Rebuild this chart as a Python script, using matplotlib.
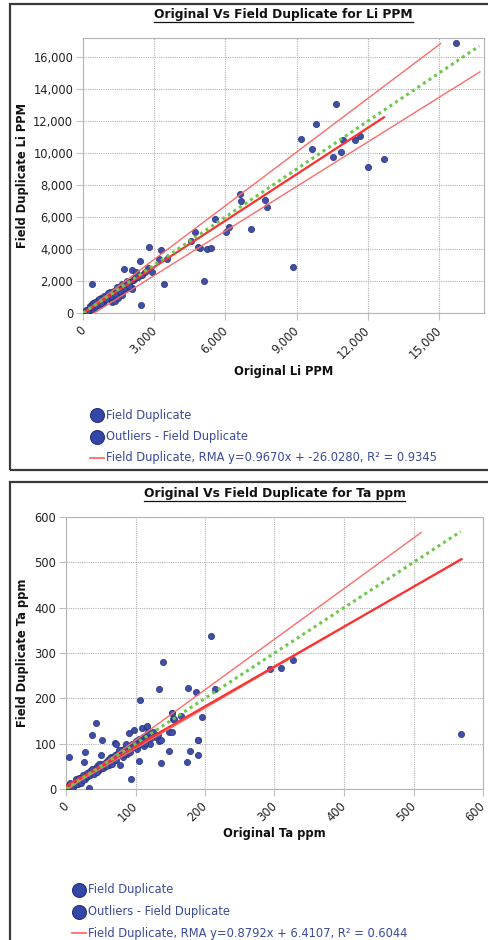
import matplotlib
matplotlib.use("Agg")
import matplotlib.pyplot as plt
from matplotlib.lines import Line2D
from matplotlib.patches import Rectangle
from matplotlib.ticker import FuncFormatter
from matplotlib.transforms import ScaledTranslation
import numpy as np

W, H = 489, 940

# ---- Li data (Original, Field Duplicate) ----
li_x = [50, 100, 150, 155, 200, 225, 250, 295, 300, 350, 365, 392, 400, 435, 450, 500, 506,
        600, 646, 650, 700, 716, 745, 800, 850, 857, 900, 927, 1000, 1067, 1100, 1138, 1150,
        1208, 1250, 1278, 1300, 1348, 1400, 1418, 1489, 1489, 1500, 1559, 1600, 1629, 1700,
        1700, 1714, 1770, 1800, 1840, 1900, 1910, 1980, 2050, 2050, 2050, 2100, 2120, 2190,
        2200, 2220, 2300, 2415, 2457, 2500, 2600, 2725, 2780, 2920, 3202, 3286, 3425, 3552,
        4550, 4719, 4859, 4930, 5085, 5210, 5405, 5548, 6010, 6137, 6600, 6643, 7064, 7668,
        7752, 8860, 9185, 9648, 9830, 10520, 10645, 10885, 10940, 11473, 11670, 11993,
        12680, 15740,
        120, 180, 280, 420, 520, 560, 680, 760, 880, 960, 1050, 1180, 1350, 1450, 1550,
        1650, 1750, 1850, 1950, 2250]
li_y = [30, 80, 60, 83, 150, 187, 250, 437, 200, 400, 562, 1833, 300, 229, 500, 420, 396,
        650, 812, 560, 760, 500, 917, 700, 900, 604, 820, 812, 1000, 1125, 950, 1333, 1200,
        708, 1150, 1020, 1350, 771, 1300, 1437, 1229, 917, 1450, 1646, 1550, 1125, 1650,
        1437, 2730, 1750, 1750, 1854, 1800, 1542, 1958, 2670, 1542, 1500, 2050, 2062, 2166,
        2200, 2540, 2250, 3230, 520, 2400, 2550, 2830, 4104, 2580, 3400, 3960, 1790, 3375,
        4500, 5062, 4104, 4080, 1980, 4020, 4080, 5875, 5040, 5400, 7460, 6980, 5250, 7040,
        6625, 2850, 10875, 10250, 11830, 9770, 13100, 10040, 10810, 10790, 11080, 9145,
        9645, 16894,
        200, 100, 350, 600, 700, 480, 900, 600, 1050, 850, 1250, 1050, 1200, 1600, 1350,
        1800, 1550, 2000, 1700, 2400]
li_rma = (0.9670, -26.0280, 12683)      # slope, intercept, x end
li_upper = (1.118, 0.0, 15070)
li_lower = (0.928, -440.0, 16727)
li_one_to_one_end = 16700

# ---- Ta data ----
ta_x = [1, 2, 3, 4, 5, 6, 7, 8, 10, 12, 14, 15, 17, 20, 22, 25, 26, 27, 28, 30, 32, 33,
        35, 37, 40, 42, 43, 45, 48, 50, 50, 52, 55, 58, 60, 62, 62, 65, 68, 70, 71, 72, 75,
        78, 80, 82, 85, 88, 90, 90, 93, 95, 98, 100, 102, 105, 105, 107, 110, 111, 112,
        115, 116, 117, 120, 121, 125, 128, 130, 132, 134, 134, 136, 136, 140, 148, 148,
        152, 153, 153, 154, 156, 166, 174, 176, 179, 187, 190, 190, 190, 195, 209, 215,
        293, 309, 326, 568, 4, 6, 15, 8, 11,
        10, 15, 18, 22, 25, 30, 35, 38, 40, 45, 47, 53, 57, 63, 66, 72, 76, 83, 87, 92,
        97, 103, 108, 113, 118, 122]
ta_y = [2, 5, 1, 8, 3, 6, 10, 4, 12, 8, 15, 20, 12, 25, 18, 30, 60, 82, 22, 35, 28, 2, 40,
        119, 45, 38, 146, 50, 42, 55, 75, 109, 48, 60, 65, 52, 58, 70, 62, 75, 101, 99, 80,
        53, 85, 70, 90, 78, 123, 95, 21, 100, 131, 105, 88, 110, 62, 196, 134, 115, 95,
        120, 137, 139, 110, 100, 125, 118, 115, 120, 106, 220, 107, 57, 280, 84, 126, 167,
        126, 167, 154, 154, 162, 60, 222, 84, 213, 108, 107, 76, 158, 337, 220, 265, 267,
        284, 122, 71, 14, 21, 1, 9,
        5, 12, 25, 14, 20, 28, 30, 45, 32, 38, 55, 46, 50, 68, 55, 64, 85, 78, 100, 82,
        92, 98, 105, 102, 125, 112]
ta_rma = (0.8792, 6.4107, 569)
ta_upper = (1.115, -4.0, 511)
ta_lower = (0.893, 0.0, 569)
ta_one_to_one_end = 568

DOT = "#3f4ea6"
DOT_EDGE = "#26327a"
RED = "#ff3030"
LIGHT_RED = "#ff6a6a"
GREEN = "#6cc84a"
LEG_TXT = "#3a4a9c"

fig = plt.figure(figsize=(W / 100, H / 100), dpi=100)


def fx(px):
    return px / W


def fy(py):
    return 1 - py / H


def draw_panel(box_top, box_bottom, ax_box, xs, ys, xmax, ymax, xstep, ystep,
               rma, upper, lower, one_end, title, xlabel, ylabel, title_y, xlabel_y,
               leg_x, leg_y0, rma_text):
    # outer frame
    fig.add_artist(Rectangle((fx(10), fy(box_bottom)), fx(500) - fx(10), fy(box_top) - fy(box_bottom),
                             transform=fig.transFigure, fill=False, edgecolor="#3a3a3a", lw=1.6))
    l, t, r, b = ax_box
    ax = fig.add_axes([fx(l), fy(b), fx(r) - fx(l), fy(t) - fy(b)])
    ax.scatter(xs, ys, s=20, color=DOT, edgecolors=DOT_EDGE, linewidths=0.5, zorder=3)

    for (m, c, xe), col, lw in [(upper, LIGHT_RED, 1.0), (lower, LIGHT_RED, 1.0), (rma, RED, 1.6)]:
        xx = np.array([0, xe])
        ax.plot(xx, m * xx + c, color=col, lw=lw, zorder=4)
    ax.plot([0, one_end], [0, one_end], color=GREEN, lw=2.2, linestyle=(0, (1, 1.2)), zorder=5)

    ax.set_xlim(0, xmax)
    ax.set_ylim(0, ymax)
    ax.set_xticks(np.arange(0, xmax + 1, xstep))
    ax.set_yticks(np.arange(0, ymax + 1, ystep))
    fmt = FuncFormatter(lambda v, p: f"{int(v):,}")
    ax.xaxis.set_major_formatter(fmt)
    ax.yaxis.set_major_formatter(fmt)
    ax.grid(True, color="#b4b4b4", linestyle=(0, (1, 1)), lw=0.8)
    ax.set_axisbelow(True)
    for s in ax.spines.values():
        s.set_color("#b4b4b4")
    ax.tick_params(axis="both", length=5, width=0.8, color="#c0c0c0", labelsize=8.3,
                   labelcolor="#222222", pad=2)
    shift = ScaledTranslation(-4 / 100, -1 / 100, fig.dpi_scale_trans)
    for lab in ax.get_xticklabels():
        lab.set_rotation(45)
        lab.set_ha("right")
        lab.set_va("top")
        lab.set_rotation_mode("anchor")
        lab.set_transform(lab.get_transform() + shift)

    cx = (l + r) / 2
    fig.text(fx(cx), fy(xlabel_y), xlabel, ha="center", va="center", fontsize=8.3,
             fontweight="bold", color="#111111")
    fig.text(fx(23), fy((t + b) / 2), ylabel, ha="center", va="center", rotation=90,
             fontsize=8.3, fontweight="bold", color="#111111")
    ttl = fig.text(fx(cx), fy(title_y), title, ha="center", va="center", fontsize=8.8,
                   fontweight="bold", color="#111111")

    # legend
    rows = [("Field Duplicate", "dot"), ("Outliers - Field Duplicate", "dot"), (rma_text, "line")]
    for i, (txt, kind) in enumerate(rows):
        yy = leg_y0 + i * 21.5
        if kind == "dot":
            fig.add_artist(Line2D([fx(leg_x)], [fy(yy)], transform=fig.transFigure, marker="o",
                                  markersize=10, color="#3446a8", markeredgecolor="#22307a",
                                  markeredgewidth=0.8, linestyle="none"))
        else:
            fig.add_artist(Line2D([fx(leg_x - 7), fx(leg_x + 7)], [fy(yy), fy(yy)],
                                  transform=fig.transFigure, color=LIGHT_RED, lw=1.3))
        fig.text(fx(leg_x + 9), fy(yy), txt, ha="left", va="center", fontsize=8.3, color=LEG_TXT)
    return ttl


t1 = draw_panel(4, 470, (83, 38, 484, 313), li_x, li_y, 16900, 17200, 3000, 2000,
                li_rma, li_upper, li_lower, li_one_to_one_end,
                "Original Vs Field Duplicate for Li PPM", "Original Li PPM", "Field Duplicate Li PPM",
                14.5, 371, 97, 415,
                "Field Duplicate, RMA y=0.9670x + -26.0280, R\u00b2 = 0.9345")
t2 = draw_panel(482, 950, (66, 517, 483, 789), ta_x, ta_y, 600, 600, 100, 100,
                ta_rma, ta_upper, ta_lower, ta_one_to_one_end,
                "Original Vs Field Duplicate for Ta ppm", "Original Ta ppm", "Field Duplicate Ta ppm",
                493, 834, 79, 890,
                "Field Duplicate, RMA y=0.8792x + 6.4107, R\u00b2 = 0.6044")

# underline the titles
fig.canvas.draw()
rend = fig.canvas.get_renderer()
for t in (t1, t2):
    bb = t.get_window_extent(rend)
    yline = bb.y0 - 1
    fig.add_artist(Line2D([bb.x0 / W, bb.x1 / W], [yline / H, yline / H],
                          transform=fig.transFigure, color="#111111", lw=0.9))

fig.savefig("out.png", dpi=100)
